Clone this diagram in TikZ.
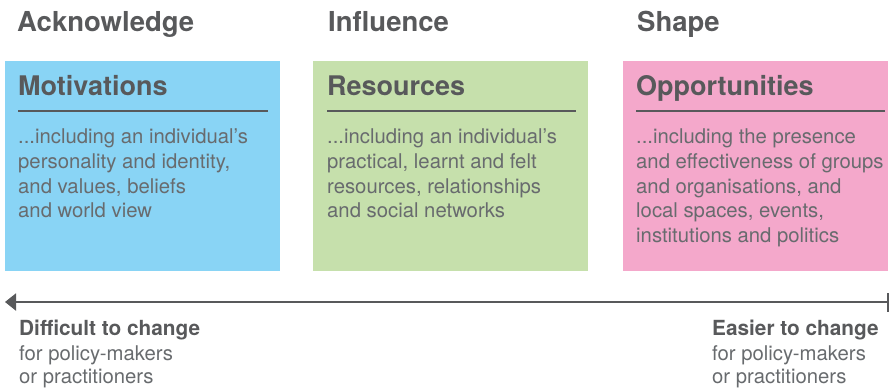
\documentclass[tikz,border=0pt]{standalone}
\usepackage{fontspec}
\setmainfont{TeX Gyre Heros}
\usetikzlibrary{arrows.meta}
\definecolor{cblue}{HTML}{89D4F5}
\definecolor{cgreen}{HTML}{C6E0AC}
\definecolor{cpink}{HTML}{F4A8CB}
\definecolor{ctext}{HTML}{58595B}
\definecolor{cbody}{HTML}{686B6E}
\tikzset{
  panel/.style={inner sep=0pt, outer sep=0pt, anchor=north west, minimum width=#1, minimum height=210pt},
  heading/.style={anchor=base west, inner sep=0pt, text=ctext, font=\fontsize{27.5}{30}\selectfont\bfseries},
  title/.style={anchor=base west, inner sep=0pt, text=ctext, font=\fontsize{27}{30}\selectfont\bfseries},
  body/.style={anchor=base west, inner sep=0pt, text=cbody, font=\fontsize{20.3}{24}\selectfont},
  bold/.style={anchor=base west, inner sep=0pt, text=ctext, font=\fontsize{20.8}{24}\selectfont\bfseries},
  rule/.style={draw=ctext, line width=2.5pt},
}
\begin{document}
\begin{tikzpicture}[x=1pt,y=-1pt]
\useasboundingbox (0,0) rectangle (889,389);
% headings
\node[heading] (h1) at (17,31) {Acknowledge};
\node[heading] (h2) at (328,31) {Influence};
\node[heading] (h3) at (637,31) {Shape};
% panels
\node[panel=275pt, fill=cblue] (pM) at (5,61) {};
\node[panel=275pt, fill=cgreen] (pR) at (313,61) {};
\node[panel=265pt, fill=cpink] (pO) at (623,61) {};
% titles
\node[title] (tM) at (18,95) {Motivations};
\node[title] (tR) at (327,95) {Resources};
\node[title] (tO) at (636,95) {Opportunities};
% rules
\coordinate (rM1) at (18,111); \coordinate (rM2) at (268,111);
\coordinate (rR1) at (327,111); \coordinate (rR2) at (576,111);
\coordinate (rO1) at (636,111); \coordinate (rO2) at (885,111);
\draw[rule] (rM1) -- (rM2);
\draw[rule] (rR1) -- (rR2);
\draw[rule] (rO1) -- (rO2);
% body texts
\node[body] (m1) at (18,143) {...including an individual’s};
\node[body] (m2) at (18,168) {personality and identity,};
\node[body] (m3) at (18,193) {and values, beliefs};
\node[body] (m4) at (18,217) {and world view};
\node[body] (r1) at (327,143) {...including an individual’s};
\node[body] (r2) at (327,168) {practical, learnt and felt};
\node[body] (r3) at (327,193) {resources, relationships};
\node[body] (r4) at (327,217) {and social networks};
\node[body] (o1) at (636,143) {...including the presence};
\node[body] (o2) at (636,168) {and effectiveness of groups};
\node[body] (o3) at (636,193) {and organisations, and};
\node[body] (o4) at (636,217) {local spaces, events,};
\node[body] (o5) at (636,242) {institutions and politics};
% arrow
\coordinate (aL) at (5,302);
\coordinate (aR) at (888,302);
\coordinate (tT) at (888,293);
\coordinate (tB) at (888,312);
\draw[ctext, line width=2pt, -{Triangle[length=11pt,width=17pt]}] (aR) -- (aL);
\draw[ctext, line width=1.5pt] (tT) -- (tB);
% bottom labels
\node[bold] (dl1) at (19,335) {Difficult to change};
\node[body] (dl2) at (19,360) {for policy-makers};
\node[body] (dl3) at (19,383) {or practitioners};
\node[bold] (el1) at (712,335) {Easier to change};
\node[body] (el2) at (712,360) {for policy-makers};
\node[body] (el3) at (712,383) {or practitioners};
\end{tikzpicture}
\end{document}
